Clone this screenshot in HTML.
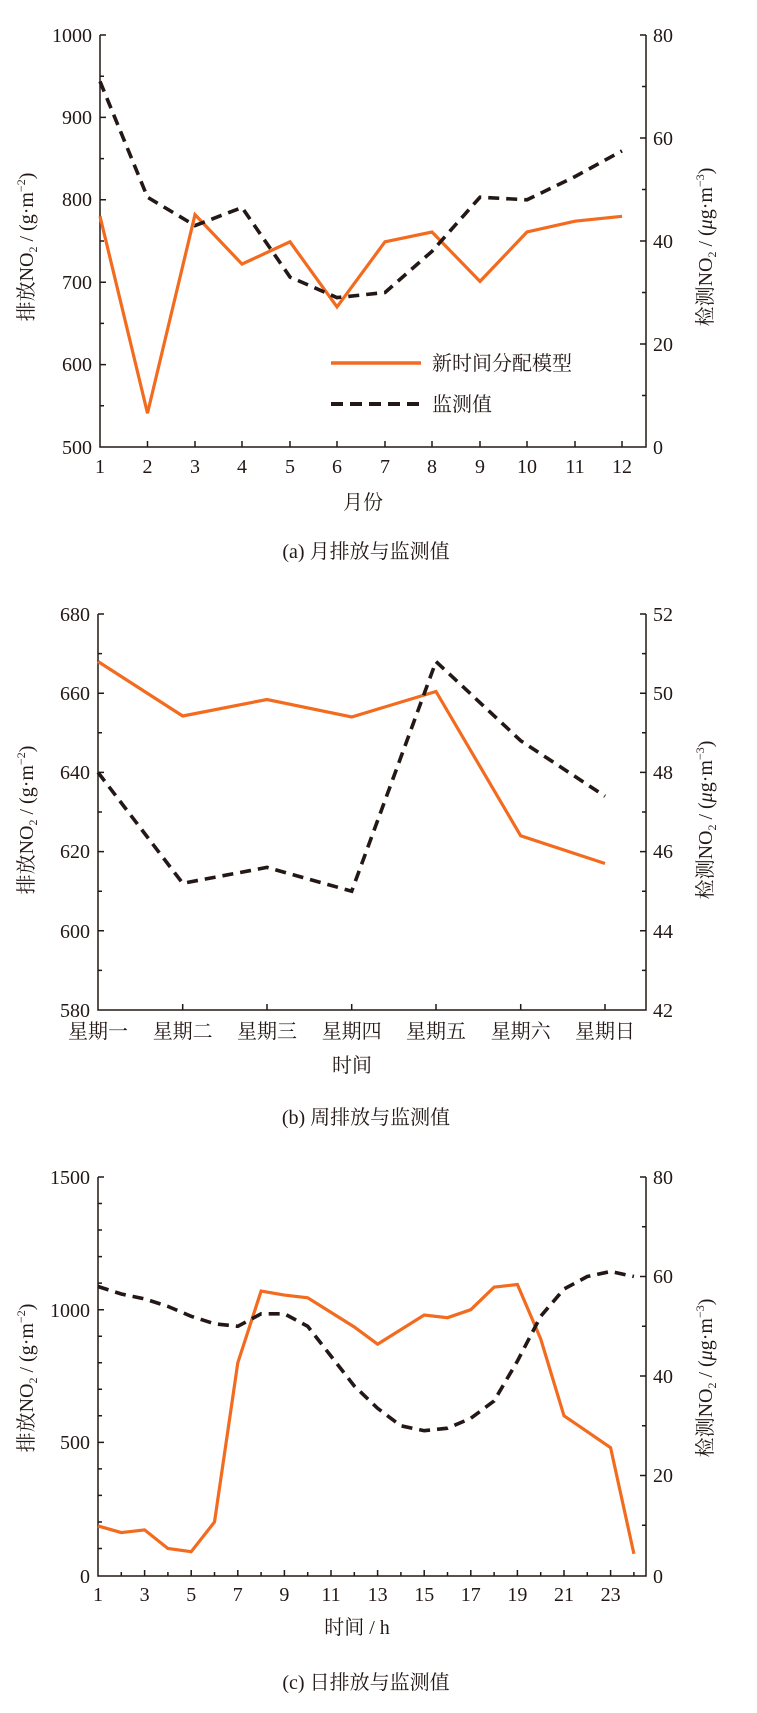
<!DOCTYPE html>
<html><head><meta charset="utf-8"><style>
html,body{margin:0;padding:0;background:#fff;}
svg{display:block;}
.n{font-family:"Liberation Serif","Noto Serif CJK SC",serif;font-size:20px;fill:#231815;}
.c{font-family:"Liberation Serif","Noto Serif CJK SC",serif;font-size:20px;fill:#231815;}
.o{fill:none;stroke:#f26b1f;stroke-width:3.2;stroke-linejoin:miter;}
.k{fill:none;stroke:#231815;stroke-width:3.6;stroke-dasharray:11 7;}
.ax{fill:none;stroke:#231815;stroke-width:1.5;}
</style></head><body>
<svg width="757" height="1713" viewBox="0 0 757 1713" xmlns="http://www.w3.org/2000/svg">
<!-- ===== Chart A ===== -->
<path class="ax" d="M100,35 V447 H646 V35"/>
<path class="ax" d="M100,35h6M100,76.2h4M100,117.4h6M100,158.6h4M100,199.8h6M100,241h4M100,282.2h6M100,323.4h4M100,364.6h6M100,405.8h4
M646,35h-6M646,86.5h-4M646,138h-6M646,189.5h-4M646,241h-6M646,292.5h-4M646,344h-6M646,395.5h-4
M147.5,447v-6M195,447v-6M242,447v-6M290,447v-6M337,447v-6M385,447v-6M432,447v-6M480,447v-6M527,447v-6M575,447v-6M622,447v-6"/>
<g class="n" text-anchor="end">
<text x="92" y="42">1000</text><text x="92" y="124">900</text><text x="92" y="206">800</text><text x="92" y="289">700</text><text x="92" y="371">600</text><text x="92" y="454">500</text>
</g>
<g class="n" text-anchor="start">
<text x="653" y="42">80</text><text x="653" y="145">60</text><text x="653" y="248">40</text><text x="653" y="351">20</text><text x="653" y="454">0</text>
</g>
<g class="n" text-anchor="middle">
<text x="100" y="473">1</text><text x="147.5" y="473">2</text><text x="195" y="473">3</text><text x="242" y="473">4</text><text x="290" y="473">5</text><text x="337" y="473">6</text><text x="385" y="473">7</text><text x="432" y="473">8</text><text x="480" y="473">9</text><text x="527" y="473">10</text><text x="575" y="473">11</text><text x="622" y="473">12</text>
</g>
<text class="c" x="363" y="509" text-anchor="middle">月份</text>
<text class="c" x="366" y="558" text-anchor="middle">(a)  月排放与监测值</text>
<text class="c" transform="translate(33,247) rotate(-90)" text-anchor="middle" font-size="19">排放NO<tspan font-size="12" dy="4">2</tspan><tspan dy="-4"> / (g·m</tspan><tspan font-size="12" dy="-8">−2</tspan><tspan dy="8">)</tspan></text>
<text class="c" transform="translate(712,247) rotate(-90)" text-anchor="middle" font-size="19">检测NO<tspan font-size="12" dy="4">2</tspan><tspan dy="-4"> / (</tspan><tspan font-style="italic">μ</tspan><tspan>g·m</tspan><tspan font-size="12" dy="-8">−3</tspan><tspan dy="8">)</tspan></text>
<polyline class="o" points="100,216.3 147.5,413.2 195,214.6 242,264.1 290,241.8 337,306.9 385,241.8 432,232 480,281.4 527,232 575,221.2 622,216.3"/>
<polyline class="k" points="100,81.4 147.5,197.2 195,225.6 242,207.5 290,277 337,297.6 385,292.5 432,251.3 480,197.2 527,199.8 575,176.6 622,150.9"/>
<line x1="331" y1="363" x2="421" y2="363" stroke="#f26b1f" stroke-width="3.6"/>
<line x1="331" y1="404" x2="421" y2="404" stroke="#231815" stroke-width="4" stroke-dasharray="12 7"/>
<text class="c" x="432" y="370" font-size="21">新时间分配模型</text>
<text class="c" x="432" y="411" font-size="21">监测值</text>

<!-- ===== Chart B ===== -->
<path class="ax" d="M98,614 V1010 H646 V614"/>
<path class="ax" d="M98,614h6M98,653.6h4M98,693.2h6M98,732.8h4M98,772.4h6M98,812h4M98,851.6h6M98,891.2h4M98,930.8h6M98,970.4h4
M646,614h-6M646,653.6h-4M646,693.2h-6M646,732.8h-4M646,772.4h-6M646,812h-4M646,851.6h-6M646,891.2h-4M646,930.8h-6M646,970.4h-4
M182.7,1010v-6M267,1010v-6M351.7,1010v-6M436,1010v-6M520.7,1010v-6M605,1010v-6"/>
<g class="n" text-anchor="end">
<text x="90" y="621">680</text><text x="90" y="700">660</text><text x="90" y="779">640</text><text x="90" y="858">620</text><text x="90" y="938">600</text><text x="90" y="1017">580</text>
</g>
<g class="n" text-anchor="start">
<text x="653" y="621">52</text><text x="653" y="700">50</text><text x="653" y="779">48</text><text x="653" y="858">46</text><text x="653" y="938">44</text><text x="653" y="1017">42</text>
</g>
<g class="c" text-anchor="middle">
<text x="98" y="1038">星期一</text><text x="182.7" y="1038">星期二</text><text x="267" y="1038">星期三</text><text x="351.7" y="1038">星期四</text><text x="436" y="1038">星期五</text><text x="520.7" y="1038">星期六</text><text x="605" y="1038">星期日</text>
</g>
<text class="c" x="352" y="1072" text-anchor="middle">时间</text>
<text class="c" x="366" y="1124" text-anchor="middle">(b)  周排放与监测值</text>
<text class="c" transform="translate(33,820) rotate(-90)" text-anchor="middle" font-size="19">排放NO<tspan font-size="12" dy="4">2</tspan><tspan dy="-4"> / (g·m</tspan><tspan font-size="12" dy="-8">−2</tspan><tspan dy="8">)</tspan></text>
<text class="c" transform="translate(712,820) rotate(-90)" text-anchor="middle" font-size="19">检测NO<tspan font-size="12" dy="4">2</tspan><tspan dy="-4"> / (</tspan><tspan font-style="italic">μ</tspan><tspan>g·m</tspan><tspan font-size="12" dy="-8">−3</tspan><tspan dy="8">)</tspan></text>
<polyline class="o" points="98,661.5 182.7,716 267,699.5 351.7,717 436,691.5 520.7,835.8 605,863.5"/>
<polyline class="k" points="98,772.4 182.7,883.3 267,867.4 351.7,891.2 436,661.5 520.7,740.7 605,796.2"/>

<!-- ===== Chart C ===== -->
<path class="ax" d="M98,1177 V1576 H646 V1177"/>
<path class="ax" d="M98,1177h6M98,1203.5h4M98,1230h4M98,1256.6h4M98,1283.1h4M98,1309.7h6M98,1336.2h4M98,1362.8h4M98,1389.3h4M98,1415.8h4M98,1442.4h6M98,1468.9h4M98,1495.4h4M98,1522h4M98,1548.5h4
M646,1177h-6M646,1226.8h-4M646,1276.5h-6M646,1326.3h-4M646,1376h-6M646,1425.8h-4M646,1475.5h-6M646,1525.3h-4
M121.3,1576v-4M144.6,1576v-6M167.9,1576v-4M191.2,1576v-6M214.5,1576v-4M237.8,1576v-6M261.1,1576v-4M284.4,1576v-6M307.7,1576v-4M331,1576v-6M354.3,1576v-4M377.6,1576v-6M400.9,1576v-4M424.2,1576v-6M447.5,1576v-4M470.8,1576v-6M494.1,1576v-4M517.4,1576v-6M540.7,1576v-4M564,1576v-6M587.3,1576v-4M610.6,1576v-6M633.9,1576v-4"/>
<g class="n" text-anchor="end">
<text x="90" y="1184">1500</text><text x="90" y="1317">1000</text><text x="90" y="1449">500</text><text x="90" y="1583">0</text>
</g>
<g class="n" text-anchor="start">
<text x="653" y="1184">80</text><text x="653" y="1283">60</text><text x="653" y="1383">40</text><text x="653" y="1482">20</text><text x="653" y="1583">0</text>
</g>
<g class="n" text-anchor="middle">
<text x="98" y="1601">1</text><text x="144.6" y="1601">3</text><text x="191.2" y="1601">5</text><text x="237.8" y="1601">7</text><text x="284.4" y="1601">9</text><text x="331" y="1601">11</text><text x="377.6" y="1601">13</text><text x="424.2" y="1601">15</text><text x="470.8" y="1601">17</text><text x="517.4" y="1601">19</text><text x="564" y="1601">21</text><text x="610.6" y="1601">23</text>
</g>
<text class="c" x="357" y="1634" text-anchor="middle">时间 / h</text>
<text class="c" x="366" y="1689" text-anchor="middle">(c)  日排放与监测值</text>
<text class="c" transform="translate(33,1378) rotate(-90)" text-anchor="middle" font-size="19">排放NO<tspan font-size="12" dy="4">2</tspan><tspan dy="-4"> / (g·m</tspan><tspan font-size="12" dy="-8">−2</tspan><tspan dy="8">)</tspan></text>
<text class="c" transform="translate(712,1378) rotate(-90)" text-anchor="middle" font-size="19">检测NO<tspan font-size="12" dy="4">2</tspan><tspan dy="-4"> / (</tspan><tspan font-style="italic">μ</tspan><tspan>g·m</tspan><tspan font-size="12" dy="-8">−3</tspan><tspan dy="8">)</tspan></text>
<polyline class="o" points="98,1525.9 121.3,1532.6 144.6,1529.9 167.9,1548.5 191.2,1551.7 214.5,1522 237.8,1362.8 261.1,1291.1 284.4,1295.1 307.7,1297.8 331,1312.4 354.3,1327 377.6,1344.2 400.9,1329.6 424.2,1315 447.5,1317.7 470.8,1309.7 494.1,1287.1 517.4,1284.5 540.7,1338.9 564,1415.8 587.3,1431.7 610.6,1447.7 633.9,1553.8"/>
<polyline class="k" points="98,1286.5 121.3,1294 144.6,1298.9 167.9,1306.4 191.2,1316.3 214.5,1323.8 237.8,1326.3 261.1,1313.8 284.4,1313.8 307.7,1326.3 331,1356.1 354.3,1386 377.6,1408.3 400.9,1425.8 424.2,1430.7 447.5,1428.2 470.8,1418.3 494.1,1400.9 517.4,1361.1 540.7,1316.3 564,1289 587.3,1276.5 610.6,1271.5 633.9,1276.5"/>
</svg>
</body></html>
